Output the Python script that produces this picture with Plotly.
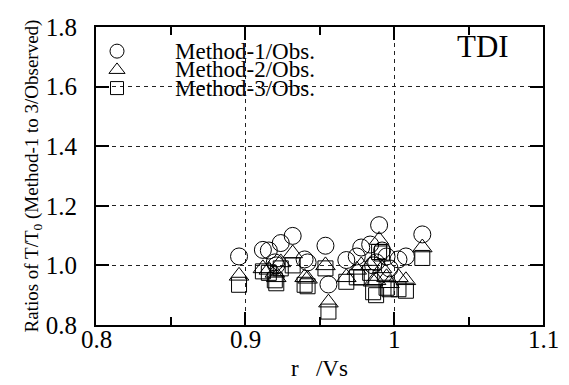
import plotly.graph_objects as go

# r/Vs for each case
r_vs = [0.896, 0.912, 0.916, 0.920, 0.921, 0.924, 0.932, 0.940, 0.942, 0.954,
        0.956, 0.968, 0.975, 0.978, 0.984, 0.986, 0.988, 0.990, 0.992, 0.995,
        0.997, 1.003, 1.008, 1.019]

# Ratios of predicted T to observed T0
method1 = [1.030, 1.052, 1.050, 1.010, 1.000, 1.075, 1.099, 1.020, 1.010, 1.066,
           0.936, 1.018, 1.030, 1.060, 1.070, 1.000, 1.010, 1.135, 1.050, 1.030,
           0.990, 1.020, 1.030, 1.104]
method2 = [0.965, 0.990, 0.985, 0.975, 0.960, 1.010, 1.040, 0.960, 0.955, 1.000,
           0.875, 0.960, 0.985, 1.000, 1.000, 0.945, 0.950, 1.085, 0.990, 0.960,
           0.940, 0.960, 0.950, 1.060]
method3 = [0.935, 0.980, 0.975, 0.950, 0.940, 0.990, 1.000, 0.935, 0.930, 0.990,
           0.845, 0.945, 0.960, 0.960, 0.975, 0.910, 0.900, 1.045, 1.040, 0.925,
           0.920, 0.920, 0.915, 1.025]

series_names = ["Method-1/Obs.", "Method-2/Obs.", "Method-3/Obs."]
series_values = [method1, method2, method3]
symbols = ["circle-open", "triangle-up-open", "square-open"]
marker_sizes = [17, 17, 15]
key_sizes = [14, 14, 13]

x_ticks = [0.8, 0.9, 1.0, 1.1]
x_tick_text = ["0.8", "0.9", "1", "1.1"]
y_ticks = [0.8, 1.0, 1.2, 1.4, 1.6, 1.8]
y_tick_text = ["0.8", "1.0", "1.2", "1.4", "1.6", "1.8"]

# key rows, in the 0..1 units of the overlay axes
key_x_symbol = 0.047
key_x_text = 0.172
key_rows = [0.919, 0.856, 0.795]

SERIF = "Liberation Serif"
NB = "\u00a0"

fig = go.Figure()
for name, vals, sym, size in zip(series_names, series_values, symbols, marker_sizes):
    fig.add_trace(go.Scatter(
        x=r_vs, y=vals, mode="markers", name=name, showlegend=False,
        marker=dict(symbol=sym, size=size, color="black",
                    line=dict(color="black", width=1)),
    ))

# key: symbols on an overlay axis pair spanning the plot area
for name, sym, size, row in zip(series_names, symbols, key_sizes, key_rows):
    fig.add_trace(go.Scatter(
        x=[key_x_symbol], y=[row], mode="markers", showlegend=False,
        xaxis="x2", yaxis="y2", hoverinfo="skip",
        marker=dict(symbol=sym, size=size, color="black",
                    line=dict(color="black", width=1)),
    ))
    fig.add_annotation(
        x=key_x_text, y=row, xref="x2", yref="y2", text=name, showarrow=False,
        xanchor="left", yanchor="middle",
        font=dict(family=SERIF, size=23, color="black"),
    )

axis_common = dict(
    showline=True, linecolor="black", linewidth=2, mirror="ticks",
    ticks="inside", tickcolor="black", tickwidth=2, ticklen=13,
    showgrid=True, gridcolor="#222222", gridwidth=1, griddash="4px,4px",
    zeroline=False, automargin=False,
    tickfont=dict(family=SERIF, size=25, color="black"),
)

# x tick labels sit close under the axis line, placed at the tick values
fig.update_xaxes(
    range=[0.8, 1.1], tickvals=x_ticks, showticklabels=False,
    minor=dict(dtick=0.05, tick0=0.8, ticks="inside", ticklen=8,
               tickwidth=2, tickcolor="black", showgrid=False),
    title=dict(text="r" + NB * 3 + "/Vs", font=dict(family=SERIF, size=23, color="black"),
               standoff=34),
    **axis_common,
)
for xv, label in zip(x_ticks, x_tick_text):
    fig.add_annotation(
        x=xv, y=0, xref="x", yref="paper", text=label, showarrow=False,
        xanchor="center", yanchor="middle", yshift=-14,
        font=dict(family=SERIF, size=25, color="black"),
    )

fig.update_yaxes(
    range=[0.8, 1.8], tickvals=y_ticks, ticktext=y_tick_text,
    ticklabelstandoff=12,
    title=dict(text="Ratios of T/T<sub>0</sub> (Method-1 to 3/Observed)",
               font=dict(family=SERIF, size=19, color="black"), standoff=2),
    **axis_common,
)

fig.add_annotation(
    x=0.866, y=0.933, xref="x2", yref="y2", text="TDI", showarrow=False,
    xanchor="center", yanchor="middle", font=dict(family=SERIF, size=31, color="black"),
)

fig.update_layout(
    width=569, height=385,
    margin=dict(l=96, r=26, t=27, b=60, autoexpand=False),
    plot_bgcolor="white", paper_bgcolor="white",
    showlegend=False,
    xaxis2=dict(overlaying="x", range=[0, 1], visible=False, fixedrange=True),
    yaxis2=dict(overlaying="y", range=[0, 1], visible=False, fixedrange=True),
)

fig.write_html("out.html")
